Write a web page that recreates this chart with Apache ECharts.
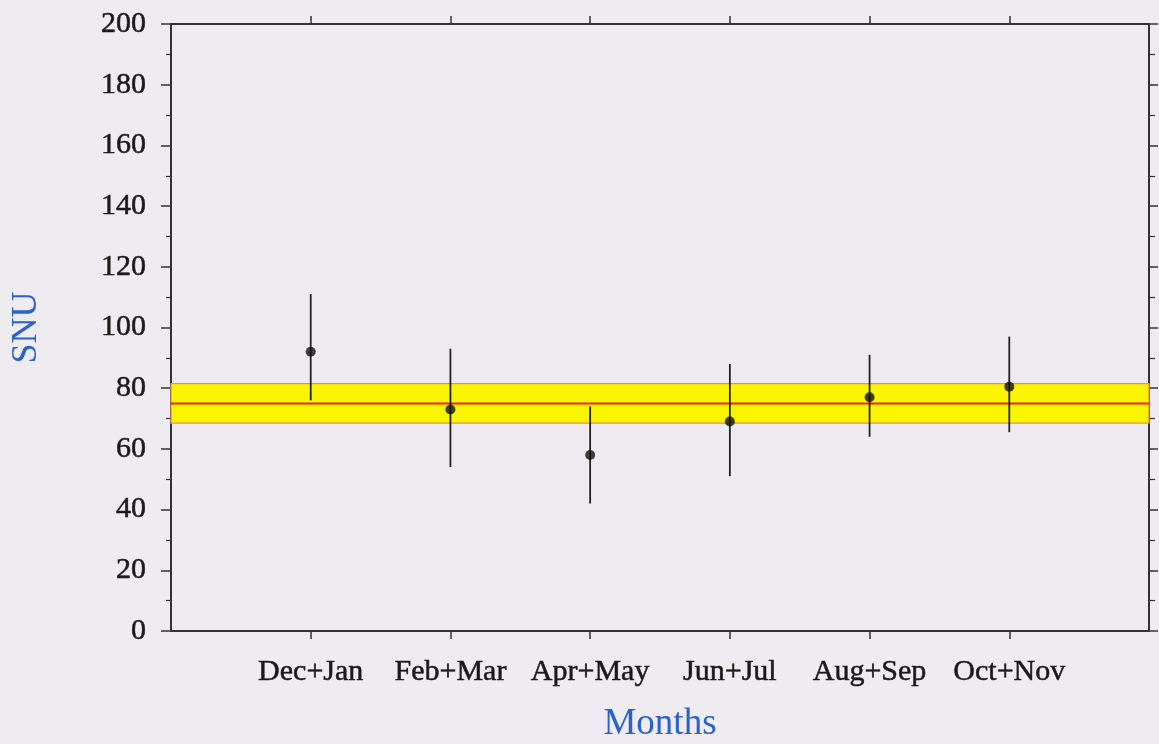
<!DOCTYPE html>
<html>
<head>
<meta charset="utf-8">
<title>SNU by Months</title>
<script src="https://cdn.jsdelivr.net/npm/echarts@6/dist/echarts.min.js"></script>
<style>
  html, body { margin: 0; padding: 0; background: #eeecf0; }
  #chart { width: 1159px; height: 744px; }
</style>
</head>
<body>
<div id="chart"></div>
<script>
// Two-month bins and the measured rate in each
const categories = ['Dec+Jan', 'Feb+Mar', 'Apr+May', 'Jun+Jul', 'Aug+Sep', 'Oct+Nov'];
const snuValues  = [92, 73, 58, 69, 77, 80.5];
const errLow     = [76, 54, 42, 51, 64, 65.5];
const errHigh    = [111, 93, 74, 88, 91, 97];

// Overall mean and its uncertainty band
const meanLevel = 75;
const bandLow = 68.5;
const bandHigh = 81.5;

// Y axis range
const yMin = 0;
const yMax = 200;
const yStep = 20;

// Padded category list: empty slot on each side of the six bins
const xSlots = [''].concat(categories, ['']);
const lastSlot = xSlots.length - 1;

const pointData = snuValues.map((v, i) => [i + 1, v]);
const errData = errLow.map((lo, i) => [i + 1, lo, errHigh[i]]);
const meanData = [[0, meanLevel], [lastSlot, meanLevel]];

const serif = 'Liberation Serif';
const axisColor = '#333';
const textColor = '#1a1a1a';
const nameColor = '#2a62c8';

const chart = echarts.init(document.getElementById('chart'), null, { renderer: 'canvas' });

const tickOnBin = (idx) => idx >= 1 && idx <= categories.length;

// Slightly heavier serif labels
const labelText = {
  fontFamily: serif, fontSize: 30, color: textColor,
  textBorderColor: textColor, textBorderWidth: 0.5
};

const baseX = {
  type: 'category',
  data: xSlots,
  boundaryGap: false,
  axisLine: { show: true, onZero: false, lineStyle: { color: axisColor, width: 2 } },
  axisTick: { show: true, inside: false, length: 8, interval: tickOnBin, lineStyle: { color: axisColor, width: 1.5 } },
  splitLine: { show: false }
};

const baseY = {
  type: 'value',
  min: yMin,
  max: yMax,
  interval: yStep,
  axisLine: { show: true, onZero: false, lineStyle: { color: axisColor, width: 2 } },
  axisTick: { show: true, inside: false, length: 10, lineStyle: { color: axisColor, width: 1.5 } },
  minorTick: { show: true, splitNumber: 2, length: 5, lineStyle: { color: axisColor, width: 1.2 } },
  splitLine: { show: false },
  minorSplitLine: { show: false }
};

chart.setOption({
  backgroundColor: '#eeecf0',
  animation: false,
  grid: { left: 171, right: 10, top: 24, bottom: 113, containLabel: false, outerBoundsMode: 'none' },
  xAxis: [
    Object.assign({}, baseX, {
      position: 'bottom',
      axisLabel: Object.assign({ interval: 0, margin: 26 }, labelText),
      name: 'Months',
      nameLocation: 'middle',
      nameGap: 75,
      nameTextStyle: { fontFamily: serif, fontSize: 37, color: nameColor }
    }),
    Object.assign({}, baseX, {
      position: 'top',
      axisLabel: { show: false }
    })
  ],
  yAxis: [
    Object.assign({}, baseY, {
      position: 'left',
      axisLabel: Object.assign({ margin: 25 }, labelText),
      name: 'SNU',
      nameLocation: 'middle',
      nameRotate: 90,
      nameGap: 126,
      nameTextStyle: { fontFamily: serif, fontSize: 36, color: nameColor }
    }),
    Object.assign({}, baseY, {
      position: 'right',
      axisLabel: { show: false },
      axisTick: { show: true, inside: false, length: 9, lineStyle: { color: axisColor, width: 1.5 } },
      minorTick: { show: true, splitNumber: 2, length: 6, lineStyle: { color: axisColor, width: 1.2 } }
    })
  ],
  series: [
    {
      name: 'mean',
      type: 'line',
      data: meanData,
      symbol: 'none',
      z: 1,
      lineStyle: { color: '#e8251c', width: 2 },
      markArea: {
        silent: true,
        itemStyle: { color: '#fbf500', borderColor: '#f08a5a', borderWidth: 1.2 },
        data: [[{ yAxis: bandLow }, { yAxis: bandHigh }]]
      }
    },
    {
      name: 'error',
      type: 'custom',
      data: errData,
      z: 3,
      renderItem: function (params, api) {
        const x = api.value(0);
        const lo = api.coord([x, api.value(1)]);
        const hi = api.coord([x, api.value(2)]);
        return {
          type: 'line',
          shape: { x1: lo[0], y1: lo[1], x2: hi[0], y2: hi[1] },
          style: { stroke: '#222', lineWidth: 1.8 }
        };
      }
    },
    {
      name: 'SNU',
      type: 'scatter',
      data: pointData,
      symbol: 'circle',
      symbolSize: 10,
      z: 4,
      itemStyle: { color: '#111' }
    }
  ]
});
</script>
</body>
</html>
